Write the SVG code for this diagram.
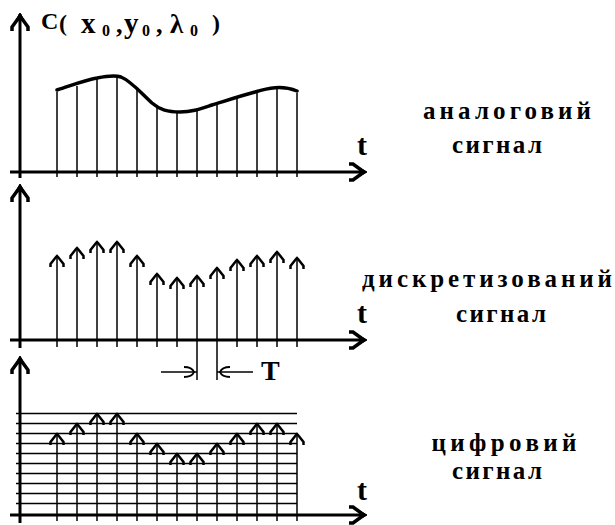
<svg xmlns="http://www.w3.org/2000/svg" width="615" height="525" viewBox="0 0 615 525">
<style>
.ax{stroke:#000;stroke-width:3;fill:none}
.ln{stroke:#000;stroke-width:1.5;fill:none}
.cv{stroke:#000;stroke-width:3.5;fill:none;stroke-linejoin:round;stroke-linecap:round}
.t{font-family:"Liberation Serif","DejaVu Serif",serif;font-weight:bold;fill:#000}
.lbl{font-family:"Liberation Serif","DejaVu Serif",serif;font-weight:bold;font-size:25px;fill:#000;text-anchor:middle}
</style>
<defs>
<path id="ah" d="M-6.5,12 V9 L-1,2 L0,1 L1,2 L6.5,9 V12" stroke="#000" stroke-width="2.5" fill="none"/>
<g id="up">
<path d="M-8,18 V14 L0,3 L8,14 V18" stroke="#000" stroke-width="3.5" fill="none"/>
<path d="M0,0 L5,9 L0,7 L-5,9 Z" fill="#000" stroke="#000" stroke-width="1"/>
</g>
<g id="rt">
<path d="M-18,-8 H-14 L-3,0 L-14,8 H-18" stroke="#000" stroke-width="3.5" fill="none"/>
<path d="M0,0 L-9,5 L-7,0 L-9,-5 Z" fill="#000" stroke="#000" stroke-width="1"/>
</g>
</defs>

<g id="panel-analog">
<line class="ax" x1="20" y1="14" x2="20" y2="178"/>
<line class="ax" x1="10" y1="172" x2="365" y2="172"/>
<use href="#up" x="20" y="13"/>
<use href="#rt" x="367" y="172"/>
<g class="ln">
<line x1="57" y1="92" x2="57" y2="177"/>
<line x1="77" y1="86" x2="77" y2="177"/>
<line x1="97" y1="79" x2="97" y2="177"/>
<line x1="117" y1="77" x2="117" y2="177"/>
<line x1="137" y1="90" x2="137" y2="177"/>
<line x1="157" y1="107" x2="157" y2="177"/>
<line x1="177" y1="112" x2="177" y2="177"/>
<line x1="197" y1="111" x2="197" y2="177"/>
<line x1="217" y1="104" x2="217" y2="177"/>
<line x1="237" y1="97" x2="237" y2="177"/>
<line x1="257" y1="91" x2="257" y2="177"/>
<line x1="277" y1="88" x2="277" y2="177"/>
<line x1="297" y1="93" x2="297" y2="177"/>
</g>
<path class="cv" d="M57,90 C70,86 85,80 97,78 C107,76 115,75 121,77 C131,81 140,92 152,103 C160,110 168,112 180,112 C192,112 200,109 212,105 C225,101 240,96 255,92 C268,88 282,85 297,91"/>
<text class="t" font-size="24" x="41" y="29">C</text>
<text class="t" font-size="24" x="59" y="31">(</text>
<text class="t" font-size="29" x="81" y="33">x</text>
<text class="t" font-size="16" x="102" y="36">0</text>
<text class="t" font-size="26" x="116" y="33">,</text>
<text class="t" font-size="29" x="124" y="33">y</text>
<text class="t" font-size="16" x="142" y="36">0</text>
<text class="t" font-size="26" x="156" y="33">,</text>
<text class="t" font-size="27" x="170" y="33">λ</text>
<text class="t" font-size="16" x="190" y="36">0</text>
<text class="t" font-size="24" x="212" y="31">)</text>
<text class="t" font-size="30" x="357" y="155">t</text>
<text class="lbl" x="507" y="119" textLength="168" lengthAdjust="spacing">аналоговий</text>
<text class="lbl" x="497" y="153" textLength="90" lengthAdjust="spacing">сигнал</text>
</g>

<g id="panel-discrete">
<line class="ax" x1="20" y1="186" x2="20" y2="348"/>
<line class="ax" x1="10" y1="340" x2="365" y2="340"/>
<use href="#up" x="20" y="184"/>
<use href="#rt" x="367" y="340"/>
<g class="ln">
<line x1="57" y1="256" x2="57" y2="347"/>
<line x1="77" y1="248" x2="77" y2="347"/>
<line x1="97" y1="242" x2="97" y2="347"/>
<line x1="117" y1="242" x2="117" y2="347"/>
<line x1="137" y1="256" x2="137" y2="347"/>
<line x1="157" y1="274" x2="157" y2="347"/>
<line x1="177" y1="278" x2="177" y2="347"/>
<line x1="197" y1="276" x2="197" y2="380"/>
<line x1="217" y1="268" x2="217" y2="380"/>
<line x1="237" y1="260" x2="237" y2="347"/>
<line x1="257" y1="256" x2="257" y2="347"/>
<line x1="277" y1="252" x2="277" y2="347"/>
<line x1="297" y1="258" x2="297" y2="347"/>
</g>
<use href="#ah" x="57" y="255"/>
<use href="#ah" x="77" y="247"/>
<use href="#ah" x="97" y="241"/>
<use href="#ah" x="117" y="241"/>
<use href="#ah" x="137" y="255"/>
<use href="#ah" x="157" y="273"/>
<use href="#ah" x="177" y="277"/>
<use href="#ah" x="197" y="275"/>
<use href="#ah" x="217" y="267"/>
<use href="#ah" x="237" y="259"/>
<use href="#ah" x="257" y="255"/>
<use href="#ah" x="277" y="251"/>
<use href="#ah" x="297" y="257"/>
<g class="ln">
<line x1="161" y1="372" x2="197" y2="372"/>
<line x1="217" y1="372" x2="253" y2="372"/>
</g>
<path d="M184,367 Q192,367 194,372 Q192,377 184,377" stroke="#000" stroke-width="2" fill="none"/>
<path d="M230,367 Q222,367 220,372 Q222,377 230,377" stroke="#000" stroke-width="2" fill="none"/>
<text class="t" font-size="28" x="261" y="380">T</text>
<text class="t" font-size="30" x="357" y="323">t</text>
<text class="lbl" x="487" y="287" textLength="250" lengthAdjust="spacing">дискретизований</text>
<text class="lbl" x="501" y="322" textLength="90" lengthAdjust="spacing">сигнал</text>
</g>

<g id="panel-digital">
<line class="ax" x1="20" y1="358" x2="20" y2="523"/>
<line class="ax" x1="10" y1="515" x2="365" y2="515"/>
<use href="#up" x="20" y="356"/>
<use href="#rt" x="367" y="515"/>
<g class="ln">
<line x1="16" y1="413.5" x2="297" y2="413.5"/>
<line x1="16" y1="423.5" x2="297" y2="423.5"/>
<line x1="16" y1="433.5" x2="297" y2="433.5"/>
<line x1="16" y1="443.5" x2="297" y2="443.5"/>
<line x1="16" y1="453.5" x2="297" y2="453.5"/>
<line x1="16" y1="463.5" x2="297" y2="463.5"/>
<line x1="16" y1="473.5" x2="297" y2="473.5"/>
<line x1="16" y1="483.5" x2="297" y2="483.5"/>
<line x1="16" y1="493.5" x2="297" y2="493.5"/>
<line x1="16" y1="503.5" x2="297" y2="503.5"/>
<line x1="57" y1="434" x2="57" y2="521"/>
<line x1="77" y1="424" x2="77" y2="521"/>
<line x1="97" y1="414" x2="97" y2="521"/>
<line x1="117" y1="414" x2="117" y2="521"/>
<line x1="137" y1="434" x2="137" y2="521"/>
<line x1="157" y1="444" x2="157" y2="521"/>
<line x1="177" y1="454" x2="177" y2="521"/>
<line x1="197" y1="454" x2="197" y2="521"/>
<line x1="217" y1="444" x2="217" y2="521"/>
<line x1="237" y1="434" x2="237" y2="521"/>
<line x1="257" y1="424" x2="257" y2="521"/>
<line x1="277" y1="424" x2="277" y2="521"/>
<line x1="297" y1="434" x2="297" y2="521"/>
</g>
<use href="#ah" x="57" y="433"/>
<use href="#ah" x="77" y="423"/>
<use href="#ah" x="97" y="413"/>
<use href="#ah" x="117" y="413"/>
<use href="#ah" x="137" y="433"/>
<use href="#ah" x="157" y="443"/>
<use href="#ah" x="177" y="453"/>
<use href="#ah" x="197" y="453"/>
<use href="#ah" x="217" y="443"/>
<use href="#ah" x="237" y="433"/>
<use href="#ah" x="257" y="423"/>
<use href="#ah" x="277" y="423"/>
<use href="#ah" x="297" y="433"/>
<text class="t" font-size="30" x="357" y="500">t</text>
<text class="lbl" x="504" y="451" textLength="145" lengthAdjust="spacing">цифровий</text>
<text class="lbl" x="497" y="479" textLength="90" lengthAdjust="spacing">сигнал</text>
</g>
</svg>
